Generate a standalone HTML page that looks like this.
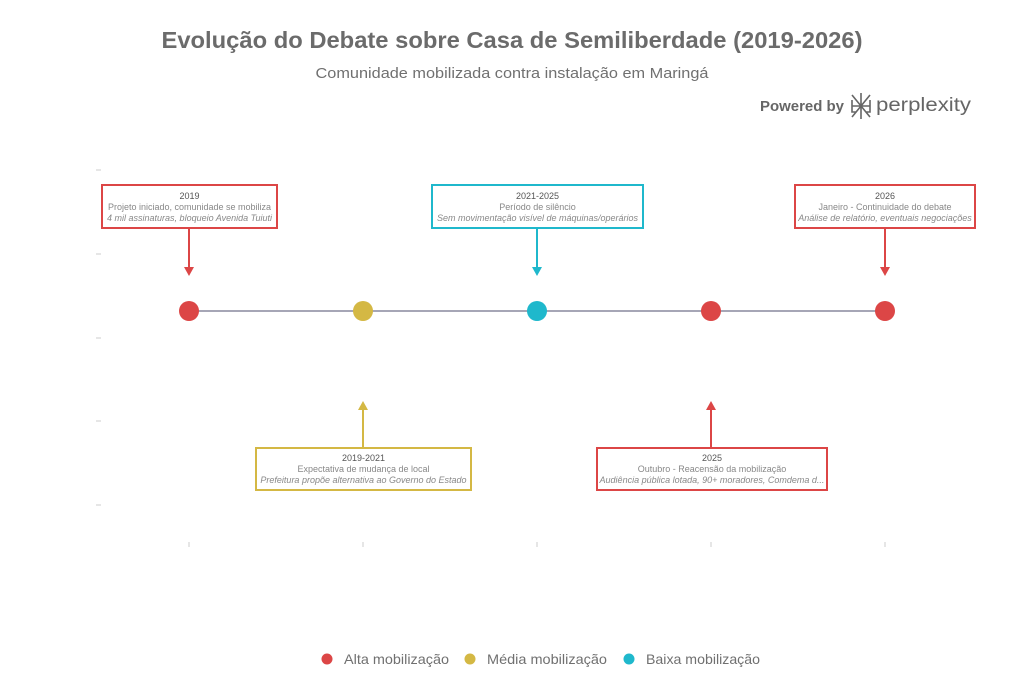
<!DOCTYPE html>
<html><head><meta charset="utf-8"><style>
html,body{margin:0;padding:0;background:#fff;}
svg{display:block;font-family:"Liberation Sans",Arial,sans-serif;}
</style></head><body>
<svg width="1024" height="683" viewBox="0 0 1024 683" xmlns="http://www.w3.org/2000/svg">
<rect width="1024" height="683" fill="#fff"/>
<text x="512" y="48" text-anchor="middle" font-size="23" font-weight="bold" fill="#6b6b6b" textLength="701" lengthAdjust="spacingAndGlyphs">Evolução do Debate sobre Casa de Semiliberdade (2019-2026)</text>
<text x="512" y="78" text-anchor="middle" font-size="15" fill="#707070" textLength="393" lengthAdjust="spacingAndGlyphs">Comunidade mobilizada contra instalação em Maringá</text>
<text x="760" y="111" font-size="15" font-weight="bold" fill="#666" textLength="84" lengthAdjust="spacingAndGlyphs">Powered by</text>
<g stroke="#666" stroke-width="1.6" fill="none">
<path d="M852 95 L870 117 M870 95 L852 117 M861 93 L861 119 M852 100 L852 112 L856 112 M870 100 L870 112 L866 112 M852 106 L870 106"/>
</g>
<text x="876" y="111" font-size="19" fill="#666" textLength="95" lengthAdjust="spacingAndGlyphs">perplexity</text>
<g stroke="#ccc" stroke-width="1">
<line x1="96" y1="170" x2="101" y2="170"/><line x1="96" y1="254" x2="101" y2="254"/><line x1="96" y1="338" x2="101" y2="338"/><line x1="96" y1="421" x2="101" y2="421"/><line x1="96" y1="505" x2="101" y2="505"/>
<line x1="189" y1="542" x2="189" y2="547"/><line x1="363" y1="542" x2="363" y2="547"/><line x1="537" y1="542" x2="537" y2="547"/><line x1="711" y1="542" x2="711" y2="547"/><line x1="885" y1="542" x2="885" y2="547"/>
</g>
<line x1="189" y1="311" x2="885" y2="311" stroke="#a6a6b6" stroke-width="2"/>
<circle cx="189" cy="311" r="10" fill="#dc4646"/>
<circle cx="363" cy="311" r="10" fill="#d4b844"/>
<circle cx="537" cy="311" r="10" fill="#1fb8cc"/>
<circle cx="711" cy="311" r="10" fill="#dc4646"/>
<circle cx="885" cy="311" r="10" fill="#dc4646"/>
<!-- arrows -->
<g stroke-width="2">
<line x1="189" y1="228" x2="189" y2="268" stroke="#dc4646"/><path d="M184 267 L194 267 L189 276 Z" fill="#dc4646"/>
<line x1="537" y1="228" x2="537" y2="268" stroke="#1fb8cc"/><path d="M532 267 L542 267 L537 276 Z" fill="#1fb8cc"/>
<line x1="885" y1="228" x2="885" y2="268" stroke="#dc4646"/><path d="M880 267 L890 267 L885 276 Z" fill="#dc4646"/>
<line x1="363" y1="448" x2="363" y2="409" stroke="#d4b844"/><path d="M358 410 L368 410 L363 401 Z" fill="#d4b844"/>
<line x1="711" y1="448" x2="711" y2="409" stroke="#dc4646"/><path d="M706 410 L716 410 L711 401 Z" fill="#dc4646"/>
</g>
<!-- boxes -->
<g fill="#fff" stroke-width="2">
<rect x="102" y="185" width="175" height="43" stroke="#dc4646"/>
<rect x="432" y="185" width="211" height="43" stroke="#1fb8cc"/>
<rect x="795" y="185" width="180" height="43" stroke="#dc4646"/>
<rect x="256" y="448" width="215" height="42" stroke="#d4b844"/>
<rect x="597" y="448" width="230" height="42" stroke="#dc4646"/>
</g>
<g font-size="9" text-anchor="middle" fill="#888">
<text x="189.5" y="199" fill="#555">2019</text>
<text x="189.5" y="210">Projeto iniciado, comunidade se mobiliza</text>
<text x="189.5" y="221" font-style="italic">4 mil assinaturas, bloqueio Avenida Tuiuti</text>
<text x="537.5" y="199" fill="#555">2021-2025</text>
<text x="537.5" y="210">Período de silêncio</text>
<text x="537.5" y="221" font-style="italic">Sem movimentação visível de máquinas/operários</text>
<text x="885" y="199" fill="#555">2026</text>
<text x="885" y="210">Janeiro - Continuidade do debate</text>
<text x="885" y="221" font-style="italic">Análise de relatório, eventuais negociações</text>
<text x="363.5" y="461" fill="#555">2019-2021</text>
<text x="363.5" y="472">Expectativa de mudança de local</text>
<text x="363.5" y="483" font-style="italic">Prefeitura propõe alternativa ao Governo do Estado</text>
<text x="712" y="461" fill="#555">2025</text>
<text x="712" y="472">Outubro - Reacensão da mobilização</text>
<text x="712" y="483" font-style="italic">Audiência pública lotada, 90+ moradores, Comdema d...</text>
</g>
<!-- legend -->
<circle cx="327" cy="659" r="5.5" fill="#dc4646"/>
<circle cx="470" cy="659" r="5.5" fill="#d4b844"/>
<circle cx="629" cy="659" r="5.5" fill="#1fb8cc"/>
<g font-size="14" fill="#707070">
<text x="344" y="664" textLength="105" lengthAdjust="spacingAndGlyphs">Alta mobilização</text>
<text x="487" y="664" textLength="120" lengthAdjust="spacingAndGlyphs">Média mobilização</text>
<text x="646" y="664" textLength="114" lengthAdjust="spacingAndGlyphs">Baixa mobilização</text>
</g>
</svg>
</body></html>
